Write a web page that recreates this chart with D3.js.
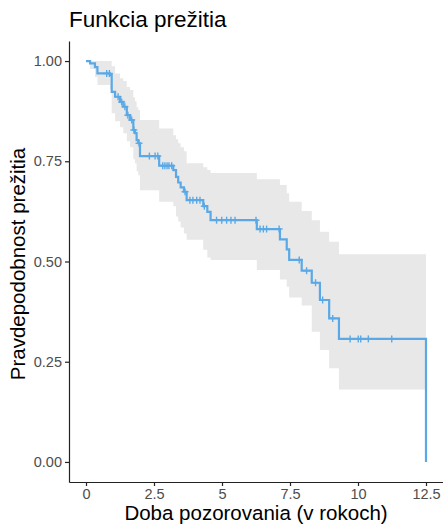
<!DOCTYPE html>
<html>
<head>
<meta charset="utf-8">
<script src="https://cdn.jsdelivr.net/npm/d3@7"></script>
<style>
  body { margin: 0; background: #fff; }
  svg { font-family: "Liberation Sans", Arial, sans-serif; }
  .axis text { fill: #4d4d4d; font-size: 14.5px; }
  .axis path, .axis line { stroke: #222; stroke-width: 1.2px; }
</style>
</head>
<body>
<svg id="km"></svg>
<script>
// step times (years), survival after each step, and the confidence band
var times = [0, 0.15, 0.33, 0.42, 0.88, 0.945, 1.07, 1.25, 1.37, 1.50, 1.62, 1.74, 1.80, 1.86, 1.92, 1.985,
  2.69, 3.21, 3.31, 3.39, 3.48, 3.60, 3.70, 4.31, 4.46, 4.58, 6.28, 7.13, 7.38, 7.47, 7.93, 8.30, 8.60, 8.94, 9.30];
var surv = [1, 0.994, 0.985, 0.969, 0.965, 0.923, 0.911, 0.898, 0.886, 0.865, 0.853, 0.828, 0.820, 0.803, 0.795, 0.763,
  0.739, 0.728, 0.711, 0.697, 0.685, 0.674, 0.653, 0.638, 0.624, 0.603, 0.581, 0.555, 0.530, 0.504, 0.477, 0.447, 0.404, 0.358, 0.307];
var upper = [1, 1, 1, 1, 1, 0.987, 0.969, 0.957, 0.950, 0.935, 0.928, 0.910, 0.900, 0.885, 0.878, 0.853,
  0.832, 0.815, 0.805, 0.795, 0.785, 0.775, 0.745, 0.735, 0.728, 0.721, 0.705, 0.691, 0.670, 0.649, 0.626, 0.603, 0.574, 0.549, 0.518];
var lower = [1, 0.98, 0.96, 0.94, 0.93, 0.87, 0.85, 0.835, 0.82, 0.80, 0.785, 0.755, 0.745, 0.725, 0.715, 0.678,
  0.649, 0.638, 0.612, 0.600, 0.585, 0.570, 0.554, 0.529, 0.510, 0.504, 0.479, 0.455, 0.437, 0.410, 0.390, 0.325, 0.279, 0.234, 0.181];
var lastTime = 12.5;
var censorTimes = [0.76, 0.86, 1.18, 1.31, 1.43, 1.54, 1.68, 1.76, 1.95, 2.33, 2.54, 2.64, 2.82, 2.90, 2.98, 3.05, 3.15,
  3.64, 3.82, 3.93, 4.07, 4.19, 4.35, 4.80, 4.99, 5.17, 5.33, 5.48, 6.25, 6.40, 6.52, 6.64, 7.10, 7.84, 8.11, 8.44,
  8.70, 9.07, 9.71, 10.01, 10.10, 10.38, 11.24];
var xTicks = [0, 2.5, 5, 7.5, 10, 12.5];
var yTicks = [0, 0.25, 0.5, 0.75, 1];

var W = 443, H = 525;
var svg = d3.select('#km').attr('width', W).attr('height', H);

var x = d3.scaleLinear().domain([-0.625, 13.125]).range([69, 443]);
var y = d3.scaleLinear().domain([-0.05, 1.05]).range([482, 41]);

var steps = times.map((t, i) => ({ t: t, s: surv[i], hi: upper[i], lo: lower[i] }));
var bandPts = steps.concat([{ t: lastTime, hi: upper[upper.length - 1], lo: lower[lower.length - 1] }]);
var linePts = steps.concat([{ t: lastTime, s: surv[surv.length - 1] }, { t: lastTime, s: 0 }]);

// confidence band
svg.append('path')
  .datum(bandPts)
  .attr('fill', '#e8e8e8')
  .attr('d', d3.area().curve(d3.curveStepAfter)
    .x(d => x(d.t)).y0(d => y(d.lo)).y1(d => y(d.hi)));

// survival curve
svg.append('path')
  .datum(linePts)
  .attr('fill', 'none')
  .attr('stroke', '#5aa9e6')
  .attr('stroke-width', 2.2)
  .attr('d', d3.line().curve(d3.curveStepAfter).x(d => x(d.t)).y(d => y(d.s)));

// censor marks
var survAt = t => surv[d3.bisectRight(times, t) - 1];
var cm = svg.append('g').attr('stroke', '#5aa9e6').attr('stroke-width', 1.4);
censorTimes.forEach(t => {
  var cx = x(t), cy = y(survAt(t));
  cm.append('line').attr('x1', cx).attr('x2', cx).attr('y1', cy - 3.5).attr('y2', cy + 3.5);
  cm.append('line').attr('x1', cx - 3.5).attr('x2', cx + 3.5).attr('y1', cy).attr('y2', cy);
});

// axes
svg.append('g')
  .attr('class', 'axis')
  .attr('transform', 'translate(0,482)')
  .call(d3.axisBottom(x).tickValues(xTicks).tickSizeInner(4).tickSizeOuter(0).tickPadding(3)
    .tickFormat(d => String(d)));

svg.append('g')
  .attr('class', 'axis')
  .attr('transform', 'translate(69,0)')
  .call(d3.axisLeft(y).tickValues(yTicks).tickSizeInner(4).tickSizeOuter(0).tickPadding(3)
    .tickFormat(d3.format('.2f')));

// titles
svg.append('text')
  .attr('x', 69).attr('y', 27)
  .style('font-size', '22.5px')
  .text('Funkcia prežitia');

svg.append('text')
  .attr('x', 256).attr('y', 520)
  .attr('text-anchor', 'middle')
  .style('font-size', '20.5px')
  .text('Doba pozorovania (v rokoch)');

svg.append('text')
  .attr('transform', 'translate(25,264) rotate(-90)')
  .attr('text-anchor', 'middle')
  .style('font-size', '20.5px')
  .text('Pravdepodobnost prežitia');
</script>
</body>
</html>
